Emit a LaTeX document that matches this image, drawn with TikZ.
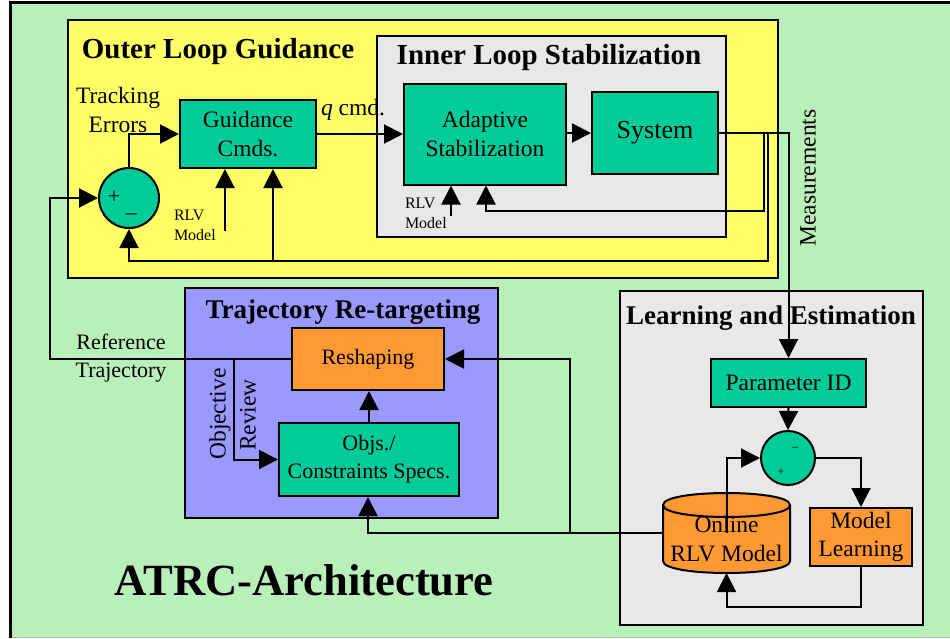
\documentclass[tikz,border=0pt]{standalone}
\usepackage{fontspec}
\setmainfont{Liberation Serif}
\usetikzlibrary{arrows.meta}
\definecolor{bggreen}{RGB}{185,240,185}
\definecolor{yel}{RGB}{255,255,102}
\definecolor{lgray}{RGB}{232,232,232}
\definecolor{tealbox}{RGB}{0,204,153}
\definecolor{orng}{RGB}{255,153,51}
\definecolor{blu}{RGB}{153,153,255}
\begin{document}
\begin{tikzpicture}[x=1pt,y=-1pt,line width=2pt,
  txt/.style={font=\fontsize{23.5}{28.5}\selectfont, align=center, inner sep=0pt},
  txts/.style={font=\fontsize{22}{28}\selectfont, align=center, inner sep=0pt},
  ttl/.style={font=\bfseries\fontsize{29}{34}\selectfont, inner sep=0pt},
  ttlb/.style={font=\bfseries\fontsize{27}{32}\selectfont, inner sep=0pt},
  small/.style={font=\fontsize{16}{20}\selectfont, align=left, inner sep=0pt},
  blk/.style={draw, line width=2pt, fill=tealbox, inner sep=0pt, align=center},
  grp/.style={draw, line width=2pt, inner sep=0pt},
  arr/.style={-{Triangle[length=19pt,width=19pt]}},
  sumnode/.style={circle, draw, fill=tealbox, line width=2pt, inner sep=0pt}]
\useasboundingbox (0,0) rectangle (950,638);
% background
\fill[bggreen] (10,2) rectangle (950,637);
\draw[line width=1pt, color={rgb,255:red,150;green,200;blue,150}] (10,637.5) -- (950,637.5);
\draw[line width=3pt] (10,638) -- (10,2.5) -- (950,2.5);

% group boxes
\node[grp, fill=yel, minimum width=710pt, minimum height=258pt] (outer) at (423,149) {};
\node[grp, fill=lgray, minimum width=349pt, minimum height=201pt] (inner) at (551.5,136.5) {};
\node[grp, fill=blu, minimum width=313pt, minimum height=230pt] (traj) at (341.5,403) {};
\node[grp, fill=lgray, minimum width=303pt, minimum height=334pt] (learn) at (771.5,458) {};

% titles
\node[ttl] (t1) at (218,52) {Outer Loop Guidance};
\node[ttl] (t2) at (549,58) {Inner Loop Stabilization};
\node[ttlb] (t3) at (343,312) {Trajectory Re-targeting};
\node[ttlb] (t4) at (771,318) {Learning and Estimation};
\node[font=\bfseries\fontsize{44.6}{50}\selectfont, inner sep=0pt] (t5) at (304,580) {ATRC-Architecture};

% blocks
\node[blk, txt, minimum width=136pt, minimum height=68pt] (guid) at (248,134) {Guidance\\Cmds.};
\node[blk, txt, minimum width=162pt, minimum height=101pt] (adapt) at (485,134) {Adaptive\\Stabilization};
\node[blk, font=\fontsize{26}{30}\selectfont, minimum width=126pt, minimum height=82pt] (sys) at (655,133) {System};
\node[sumnode, minimum size=60pt] (sum1) at (129,198) {};
\node[font=\fontsize{22}{22}\selectfont, inner sep=0pt] (p1) at (114,197) {+};
\node[font=\fontsize{22}{22}\selectfont, inner sep=0pt] (m1) at (131,217) {\textendash};

\node[blk, fill=orng, txts, minimum width=152pt, minimum height=62pt] (resh) at (368,359) {Reshaping};
\node[blk, txts, minimum width=180pt, minimum height=73pt] (objs) at (369,459.5) {Objs./\\Constraints Specs.};

\node[blk, txt, minimum width=155pt, minimum height=48pt] (param) at (788.5,383) {Parameter ID};
\node[sumnode, minimum size=54pt] (sum2) at (788,458) {};
\node[font=\fontsize{12}{12}\selectfont, inner sep=0pt] (m2) at (795,449) {\textendash};
\node[font=\fontsize{12}{12}\selectfont, inner sep=0pt] (p2) at (781,472) {+};
\node[blk, fill=orng, txt, minimum width=102pt, minimum height=58pt] (mlearn) at (861,537) {Model\\Learning};

% cylinder
\filldraw[fill=orng, line width=2pt] (663,505) -- (663,561) .. controls (663,577) and (790,577) .. (790,561)
  -- (790,505) .. controls (790,489) and (663,489) .. (663,505) -- cycle;
\draw[line width=2pt] (663,505) .. controls (663,521) and (790,521) .. (790,505);
\node[minimum width=127pt, minimum height=80pt, inner sep=0pt] (cyl) at (726.5,533) {};
\node[txt] (cyltxt) at (726.5,539) {Online\\RLV Model};

% labels
\node[txt] (track) at (118,110) {Tracking\\Errors};
\node[txt] (qcmd) at (353,110) {\textit{q} cmd.};
\node[small, anchor=west] (rlv1t) at (173,225) {RLV\\Model};
\node[small, anchor=west] (rlv2t) at (404,213) {RLV\\Model};
\node[txt, rotate=90] (meas) at (808,178) {Measurements};
\node[txts] (reft) at (121,358) {Reference\\Trajectory};
\node[txt, rotate=90] (objt) at (220,414) {Objective};
\node[txt, rotate=90] (revt) at (248,415) {Review};

% coordinates
\coordinate (rlv1) at (225,231);
\coordinate (rlv2) at (451,216);
\coordinate (j1) at (764,133);
\coordinate (j2) at (768,133);
\coordinate (fbin) at (486,211);
\coordinate (fbout) at (129,261);
\coordinate (br) at (273,261);
\coordinate (refc) at (50,359);
\coordinate (orc) at (234,359);
\coordinate (c1) at (570,533);
\coordinate (c2) at (368,533);
\coordinate (lb) at (726.5,607);
\coordinate (cylb) at (726.5,573);

% connectors
\draw[arr] (sum1.north) |- (guid.west);
\draw[arr] (guid.east) -- (guid.east -| adapt.west);
\draw[arr] (adapt.east |- sys.west) -- (sys.west);
\draw[arr] (rlv1) -- (rlv1 |- guid.south);
\draw[arr] (rlv2) -- (rlv2 |- adapt.south);
\draw[arr] (sys.east) -| (param.north);
\draw[arr] (j1) |- (fbin) -- (fbin |- adapt.south);
\draw[arr] (j2) |- (fbout) -- (sum1.south);
\draw[arr] (br) -- (br |- guid.south);
\draw[arr] (resh.west) -- (refc) |- (sum1.west);
\draw[arr] (orc) |- (objs.west);
\draw[arr] (objs.north) -- (objs.north |- resh.south);
\draw[arr] (cyl.west) -- (c1) |- (resh.east);
\draw[arr] (c1) -- (c2) -- (c2 |- objs.south);
\draw[arr] (param.south) -- (sum2.north);
\draw[arr] (cyl.center) |- (sum2.west);
\draw[arr] (sum2.east) -| (mlearn.north);
\draw[arr] (mlearn.south) |- (lb) -- (cylb);
\end{tikzpicture}
\end{document}
